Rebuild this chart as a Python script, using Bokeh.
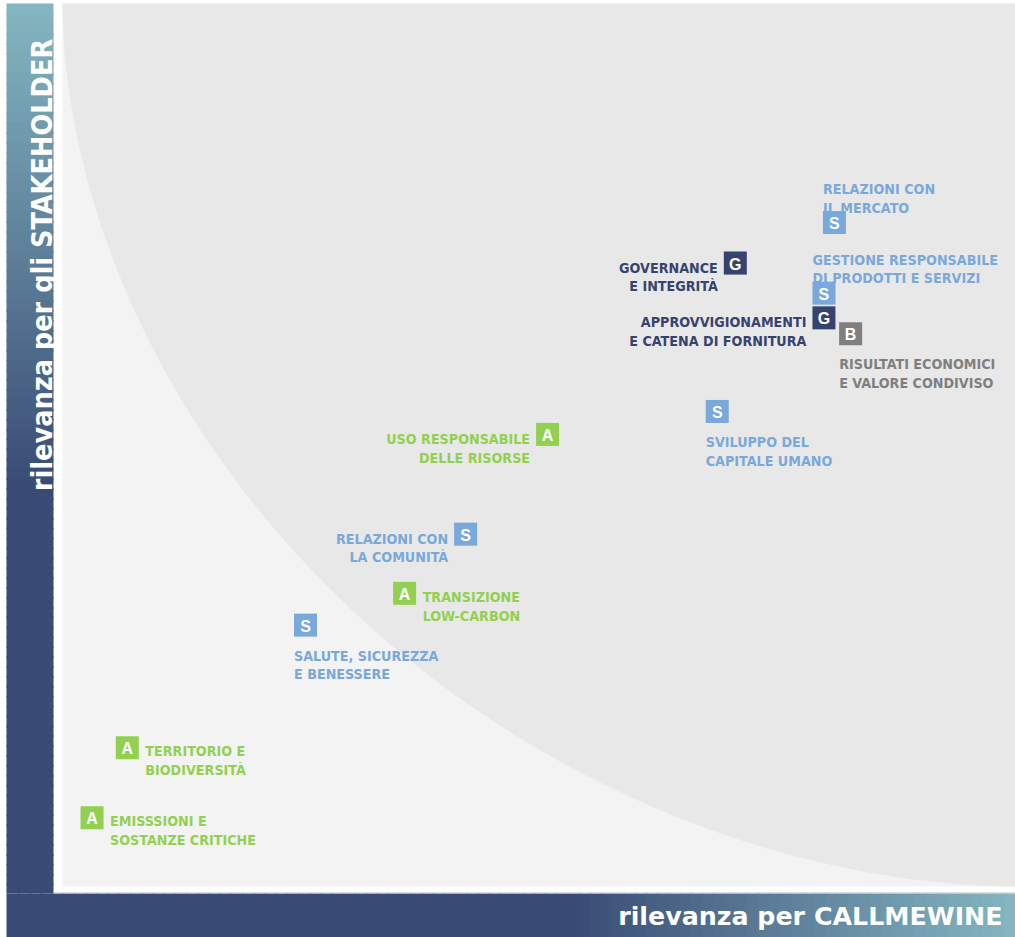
import numpy as np
from bokeh.plotting import figure
from bokeh.models import Range1d, ColumnDataSource
from bokeh.core.properties import value
from bokeh.embed import file_html
from bokeh.resources import INLINE

# ---------------- data ----------------
topic_line1 = ["RELAZIONI CON", "GESTIONE RESPONSABILE", "GOVERNANCE", "APPROVVIGIONAMENTI",
               "RISULTATI ECONOMICI", "SVILUPPO DEL", "USO RESPONSABILE", "RELAZIONI CON",
               "TRANSIZIONE", "SALUTE, SICUREZZA", "TERRITORIO E", "EMISSSIONI E"]
topic_line2 = ["IL MERCATO", "DI PRODOTTI E SERVIZI", "E INTEGRITÀ", "E CATENA DI FORNITURA",
               "E VALORE CONDIVISO", "CAPITALE UMANO", "DELLE RISORSE", "LA COMUNITÀ",
               "LOW-CARBON", "E BENESSERE", "BIODIVERSITÀ", "SOSTANZE CRITICHE"]
category = ["S", "S", "G", "G", "B", "S", "A", "S", "A", "S", "A", "A"]
rilevanza_callmewine = [8.10, 7.99, 7.06, 7.99, 8.27, 6.87, 5.09, 4.23, 3.59, 2.55, 0.68, 0.31]
rilevanza_stakeholder = [7.52, 6.72, 7.06, 6.44, 6.26, 5.38, 5.12, 3.99, 3.32, 2.96, 1.57, 0.78]
label_side = ["above", "above", "left", "left", "below", "below", "left", "left",
              "right", "below", "right", "right"]
x_title = "rilevanza per CALLMEWINE"
y_title = "rilevanza per gli STAKEHOLDER"

# ---------------- styles ----------------
cat_color = {"A": "#92d050", "S": "#79a8dc", "G": "#36436f", "B": "#7f7f7f"}
W, H = 1015, 937
PX_L, PX_R, PY_T, PY_B = 62.0, 1015.0, 3.0, 886.0
SX = (PX_R - PX_L) / 10.0
SY = (PY_B - PY_T) / 10.0


def px2x(px):
    return (px - PX_L) / SX


def py2y(py):
    return (PY_B - py) / SY


p = figure(width=W, height=H, x_range=Range1d(px2x(0), px2x(W)), y_range=Range1d(py2y(H), py2y(0)),
           output_backend="svg", toolbar_location=None, x_axis_type=None, y_axis_type=None,
           min_border=0, min_border_left=0, min_border_right=0, min_border_top=0, min_border_bottom=0)
p.grid.visible = False
p.outline_line_color = None
p.background_fill_color = "white"
p.border_fill_color = "white"
p.title.visible = False

# chart background (light) and dark region beyond the curve
p.quad(left=[0], right=[10], bottom=[0], top=[10], fill_color="#f3f3f3", line_color=None)
t = np.linspace(0, np.pi / 2, 200)
pw = 1.88
cx = 10 - 10 * np.cos(t) ** (2 / pw)
cy = 10 - 10 * np.sin(t) ** (2 / pw)
p.patch(list(cx) + [10], list(cy) + [10], fill_color="#e8e8e8", line_color=None)


def lerp_color(c1, c2, f):
    a = np.array([int(c1[i:i + 2], 16) for i in (1, 3, 5)], dtype=float)
    b = np.array([int(c2[i:i + 2], 16) for i in (1, 3, 5)], dtype=float)
    c = a + (b - a) * f
    return "#%02x%02x%02x" % tuple(int(round(v)) for v in c)


TEAL, NAVY = "#84b7c1", "#394a74"

# left vertical gradient bar (drawn as overlapping strips)
n = 90
ys = np.linspace(3, 893, n + 1)
lb, lt, lc = [], [], []
for i in range(n):
    mid = (ys[i] + ys[i + 1]) / 2
    f = min(max((mid - 3) / (490 - 3), 0), 1)
    lt.append(py2y(ys[i]))
    lb.append(py2y(min(ys[i + 1] + 2, 893)))
    lc.append(lerp_color(TEAL, NAVY, f))
p.quad(left=[px2x(6)] * n, right=[px2x(53)] * n, top=lt, bottom=lb, fill_color=lc, line_color=None)

# bottom horizontal gradient bar
xs = np.linspace(6, 1015, n + 1)
bl, br, bc = [], [], []
for i in range(n):
    mid = (xs[i] + xs[i + 1]) / 2
    f = min(max((mid - 565) / (1015 - 565), 0), 1)
    bl.append(px2x(xs[i]))
    br.append(px2x(min(xs[i + 1] + 2, 1015)))
    bc.append(lerp_color(NAVY, TEAL, f))
p.quad(left=bl, right=br, top=[py2y(893)] * n, bottom=[py2y(937)] * n, fill_color=bc, line_color=None)
p.segment(x0=[px2x(53)], y0=[py2y(892.5)], x1=[px2x(1015)], y1=[py2y(892.5)],
          line_color="#b9bec8", line_width=1)

# axis titles
p.text(x=[px2x(1002)], y=[py2y(915.5)], text=[x_title], text_color="white",
       text_font=value("DejaVu Sans"), text_font_style="bold", text_font_size="25.3px",
       text_align="right", text_baseline="middle")
p.text(x=[px2x(42)], y=[py2y(264.5)], text=[y_title], text_color="white", angle=np.pi / 2,
       text_font=value("DejaVu Sans Condensed"), text_font_style="bold", text_font_size="28.5px",
       text_align="center", text_baseline="alphabetic")

# markers
colors = [cat_color[c] for c in category]
src = ColumnDataSource(dict(x=rilevanza_callmewine, y=rilevanza_stakeholder, cat=category, color=colors))
p.scatter("x", "y", source=src, marker="square", size=23, fill_color="color", line_color=None)
p.text("x", "y", text="cat", source=src, text_color="white", text_font=value("Liberation Sans"),
       text_font_style="bold", text_font_size="16px", text_align="center", text_baseline="middle",
       y_offset=1)

# labels
LINE = 18.8
offs = {
    "right": (18, 3.5, "left"),
    "left": (-17.5, 4.5, "right"),
    "above": (-11.5, -33.6, "left"),
    "below": (-11.5, 30.5, "left"),
}
rows = {"left": dict(x=[], y=[], text=[], xo=[], yo=[], color=[]),
        "right": dict(x=[], y=[], text=[], xo=[], yo=[], color=[])}
for i in range(len(category)):
    xo, yo, al = offs[label_side[i]]
    for k, line in enumerate([topic_line1[i], topic_line2[i]]):
        r = rows[al]
        r["x"].append(rilevanza_callmewine[i])
        r["y"].append(rilevanza_stakeholder[i])
        r["text"].append(line)
        r["xo"].append(xo)
        r["yo"].append(yo + k * LINE)
        r["color"].append(colors[i])
for al, r in rows.items():
    p.text("x", "y", text="text", source=ColumnDataSource(r), x_offset="xo", y_offset="yo",
           text_color="color", text_font=value("DejaVu Sans Condensed"),
           text_font_style="bold", text_font_size="14.2px", text_align=al, text_baseline="alphabetic")

open("out.html", "w").write(file_html(p, INLINE))
